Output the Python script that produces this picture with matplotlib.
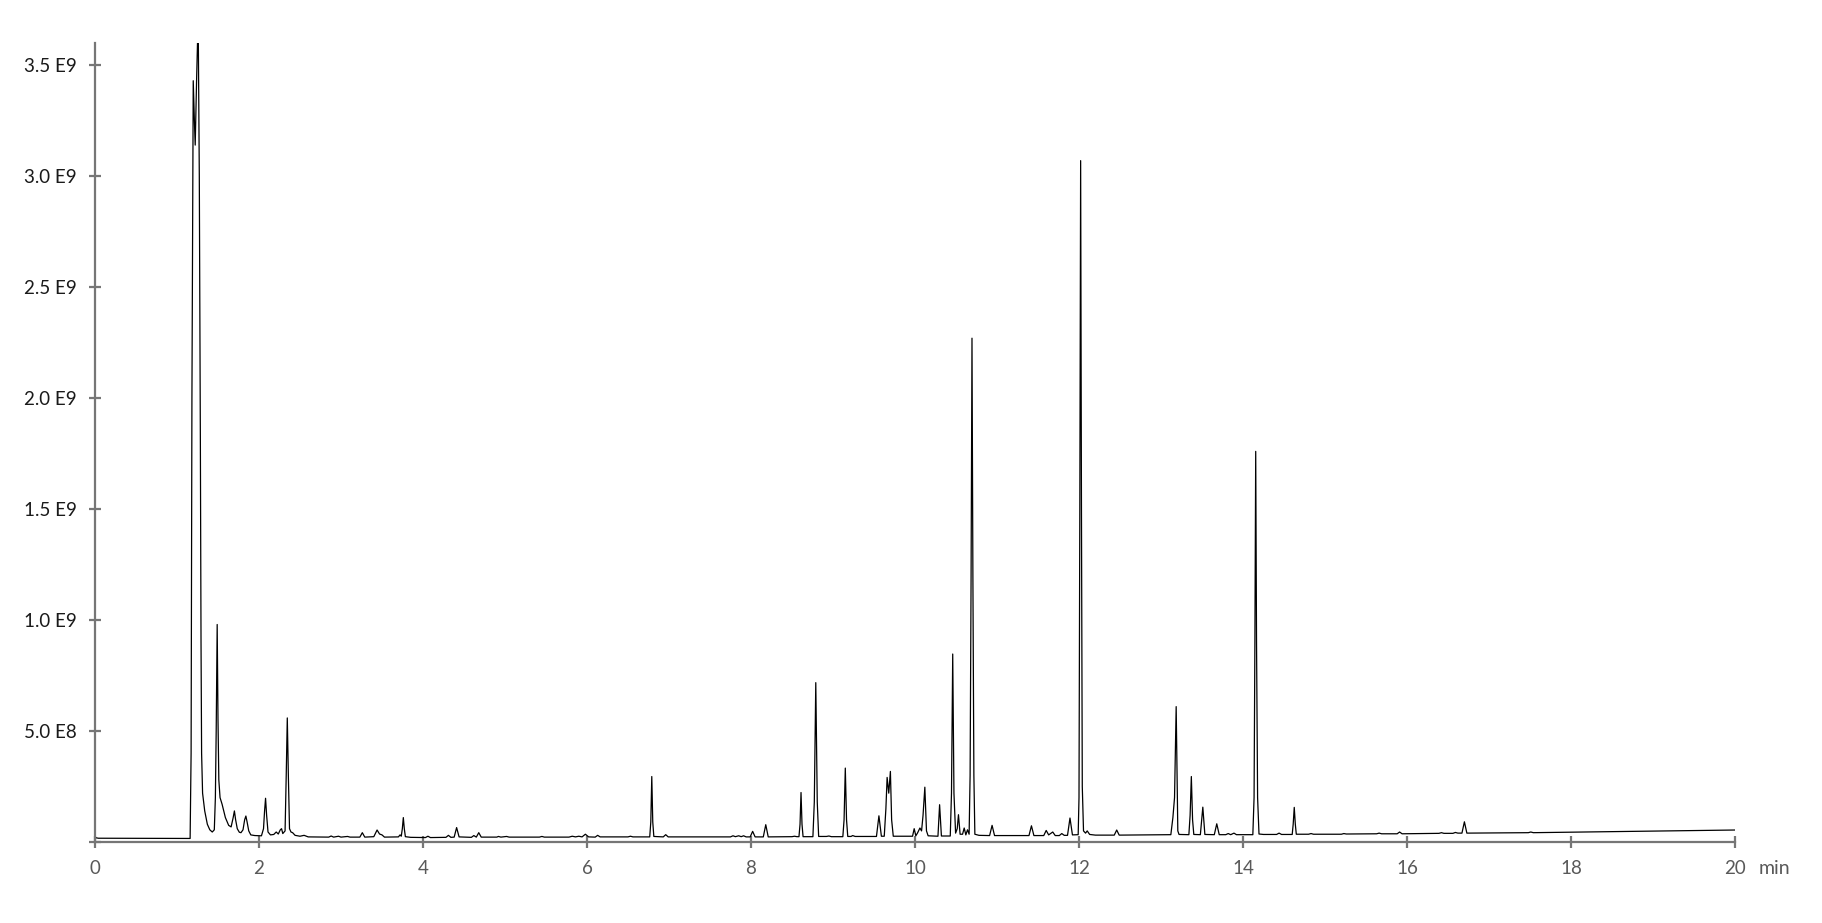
import matplotlib
matplotlib.use("Agg")
import matplotlib.pyplot as plt

# Chromatogram trace: (retention time in min, signal in 1E7 counts)
solvent_front = [
    (0.00, 2.0), (0.04, 1.7), (1.16, 1.6),
    (1.172, 40), (1.182, 200), (1.198, 343), (1.212, 325), (1.222, 314),
    (1.240, 345), (1.258, 372), (1.272, 300), (1.285, 180), (1.293, 90),
    (1.300, 40), (1.312, 22), (1.338, 14), (1.37, 8), (1.40, 5.5),
    (1.43, 4.5), (1.455, 5.5), (1.468, 20), (1.478, 50), (1.490, 98),
    (1.500, 55), (1.510, 28), (1.525, 20), (1.55, 17), (1.59, 11),
    (1.63, 7.5), (1.66, 6.8), (1.685, 11), (1.700, 14), (1.715, 10),
    (1.735, 6), (1.76, 4.4), (1.78, 4.2), (1.805, 5.5), (1.825, 10),
    (1.840, 11.7), (1.855, 9), (1.875, 5), (1.90, 3.2), (1.95, 2.9),
    (2.03, 2.8), (2.055, 6), (2.068, 14), (2.080, 19.7), (2.093, 12),
    (2.11, 4.5), (2.14, 3.2), (2.18, 3.4), (2.21, 4.5), (2.235, 3.6),
    (2.26, 5.5), (2.275, 6), (2.29, 3.8), (2.318, 5), (2.332, 30),
    (2.345, 55.9), (2.358, 30), (2.372, 6), (2.39, 4.5), (2.41, 4.2),
    (2.44, 3.0), (2.50, 2.6), (2.55, 3.0), (2.60, 2.3),
]

early_region = [
    (2.85, 2.2), (2.88, 2.7), (2.91, 2.2), (2.97, 2.6), (3.00, 2.2),
    (3.08, 2.5), (3.11, 2.2), (3.23, 2.2), (3.26, 4.2), (3.29, 2.2),
    (3.40, 2.4), (3.44, 5.4), (3.47, 3.6), (3.50, 3.2), (3.53, 2.2),
    (3.70, 2.3), (3.72, 3.2), (3.735, 2.6), (3.748, 6), (3.76, 11),
    (3.772, 6), (3.785, 2.4), (3.85, 2.1), (4.03, 2.0), (4.06, 2.6),
    (4.09, 2.0), (4.28, 2.1), (4.31, 3.0), (4.34, 2.1), (4.38, 2.2),
    (4.41, 6.5), (4.44, 2.3), (4.59, 2.1), (4.62, 2.9), (4.65, 2.2),
    (4.68, 4.2), (4.71, 2.2), (4.90, 2.2), (4.92, 2.5), (4.95, 2.2),
    (5.02, 2.5), (5.05, 2.2), (5.42, 2.2), (5.45, 2.5), (5.48, 2.2),
    (5.78, 2.2), (5.82, 2.6), (5.86, 2.3), (5.90, 2.6), (5.94, 2.3),
    (5.98, 3.5), (6.02, 2.3), (6.10, 2.2), (6.13, 3.0), (6.16, 2.3),
    (6.50, 2.3), (6.53, 2.6), (6.56, 2.3), (6.765, 2.3), (6.778, 9),
    (6.79, 29.5), (6.802, 9), (6.815, 2.5), (6.93, 2.3), (6.96, 3.3),
    (6.99, 2.3),
]

mid_region = [
    (7.75, 2.3), (7.78, 2.8), (7.81, 2.4), (7.85, 2.8), (7.88, 2.4),
    (7.91, 2.8), (7.94, 2.3), (7.99, 2.3), (8.02, 4.8), (8.05, 2.3),
    (8.15, 2.3), (8.18, 7.8), (8.21, 2.3), (8.50, 2.4), (8.53, 2.6),
    (8.56, 2.4), (8.585, 2.4), (8.598, 8), (8.61, 22.3), (8.622, 8),
    (8.635, 2.4), (8.755, 2.4), (8.772, 18), (8.79, 71.8), (8.808, 18),
    (8.825, 2.5), (8.92, 2.5), (8.95, 2.7), (8.98, 2.4), (9.12, 2.4),
    (9.135, 10), (9.15, 33.3), (9.165, 10), (9.18, 2.5), (9.22, 2.5),
    (9.24, 2.9), (9.27, 2.5), (9.53, 2.5), (9.56, 11.8), (9.59, 2.6),
    (9.625, 2.6), (9.645, 15), (9.66, 29.1), (9.68, 22), (9.70, 31.8),
    (9.715, 10), (9.735, 2.6), (9.97, 2.6), (9.99, 6.0), (10.01, 2.8),
    (10.03, 4), (10.06, 6.3), (10.08, 5), (10.098, 12), (10.12, 24.7),
    (10.14, 5), (10.16, 2.8), (10.28, 2.6), (10.30, 16.8), (10.322, 2.7),
    (10.43, 2.7), (10.445, 22), (10.46, 84.7), (10.475, 22), (10.495, 4),
    (10.515, 6), (10.53, 12.3), (10.55, 3.5), (10.58, 3.5), (10.60, 6.3),
    (10.62, 3.2), (10.64, 5.5), (10.66, 3.5), (10.672, 30), (10.684, 120),
    (10.695, 227), (10.706, 120), (10.718, 30), (10.73, 3.5), (10.78, 3.0),
]

late_region = [
    (10.91, 2.9), (10.94, 7.5), (10.97, 2.9), (11.39, 2.9), (11.42, 7.3),
    (11.45, 2.9), (11.57, 2.9), (11.60, 5.2), (11.63, 3.2), (11.68, 4.5),
    (11.71, 2.9), (11.76, 2.9), (11.79, 3.8), (11.82, 3.0), (11.86, 3.0),
    (11.89, 10.8), (11.92, 3.2), (11.99, 3.3), (12.00, 20), (12.01, 150),
    (12.02, 307), (12.03, 150), (12.04, 25), (12.055, 5), (12.08, 4),
    (12.10, 5), (12.13, 3.4), (12.20, 3.1), (12.43, 3.1), (12.46, 5.4),
    (12.49, 3.1), (13.12, 3.3), (13.145, 11), (13.165, 20), (13.185, 61),
    (13.205, 5), (13.22, 3.4), (13.34, 3.3), (13.355, 12), (13.37, 29.5),
    (13.385, 10), (13.40, 3.4), (13.48, 3.3), (13.51, 15.7), (13.535, 3.4),
    (13.65, 3.3), (13.68, 8.2), (13.71, 3.3), (13.79, 3.3), (13.82, 3.8),
    (13.85, 3.3), (13.89, 4.0), (13.92, 3.3), (14.12, 3.3), (14.135, 20),
    (14.145, 90), (14.155, 176), (14.165, 90), (14.178, 20), (14.195, 3.6),
    (14.25, 3.4), (14.41, 3.4), (14.44, 4.0), (14.47, 3.4), (14.60, 3.4),
    (14.612, 8), (14.625, 15.6), (14.638, 8), (14.65, 3.5),
]

tail_region = [
    (14.80, 3.5), (14.83, 3.8), (14.86, 3.5), (15.20, 3.5), (15.23, 3.8),
    (15.26, 3.6), (15.63, 3.7), (15.66, 4.0), (15.69, 3.7), (15.88, 3.7),
    (15.91, 4.5), (15.94, 3.7), (16.39, 3.9), (16.42, 4.2), (16.45, 3.9),
    (16.56, 3.9), (16.59, 4.3), (16.62, 4.0), (16.67, 4.0), (16.70, 9.1),
    (16.73, 4.0), (17.48, 4.2), (17.51, 4.5), (17.54, 4.2), (20.00, 5.4),
]

y_ticks = [0, 0.5e9, 1.0e9, 1.5e9, 2.0e9, 2.5e9, 3.0e9, 3.5e9]
y_tick_labels = ["", "5.0 E8", "1.0 E9", "1.5 E9", "2.0 E9", "2.5 E9", "3.0 E9", "3.5 E9"]
x_ticks = [0, 2, 4, 6, 8, 10, 12, 14, 16, 18, 20]

trace = solvent_front + early_region + mid_region + late_region + tail_region
rt = [p[0] for p in trace]
signal = [p[1] * 1e7 for p in trace]

plt.rcParams["font.family"] = ["Lato", "DejaVu Sans"]

fig = plt.figure(figsize=(18.22, 9.23), dpi=100)
ax = fig.add_axes([95 / 1822, 81 / 923, 1640 / 1822, 799 / 923])

ax.plot(rt, signal, color="black", linewidth=0.9)

ax.set_xlim(0, 20)
ax.set_ylim(0, 3.6e9)

axis_grey = "#767676"
for side in ["top", "right"]:
    ax.spines[side].set_visible(False)
for side in ["left", "bottom"]:
    ax.spines[side].set_color(axis_grey)
    ax.spines[side].set_linewidth(1.6)

ax.set_xticks(x_ticks)
ax.set_xticklabels([str(t) for t in x_ticks])
ax.set_yticks(y_ticks)
ax.set_yticklabels(y_tick_labels)

ax.tick_params(axis="both", direction="inout", length=8, width=1.6, color=axis_grey)
ax.tick_params(axis="x", labelsize=13.5, labelcolor="#595959", pad=9)
ax.tick_params(axis="y", labelsize=13.5, labelcolor="#1a1a1a", pad=9)

# unit label sits on the same line as the x tick labels
ax.annotate("min", xy=(20, 0), xycoords="data", xytext=(17, -13), textcoords="offset points",
            ha="left", va="top", fontsize=14, color="#595959", annotation_clip=False)

fig.savefig("out.png", dpi=100, facecolor="white")
